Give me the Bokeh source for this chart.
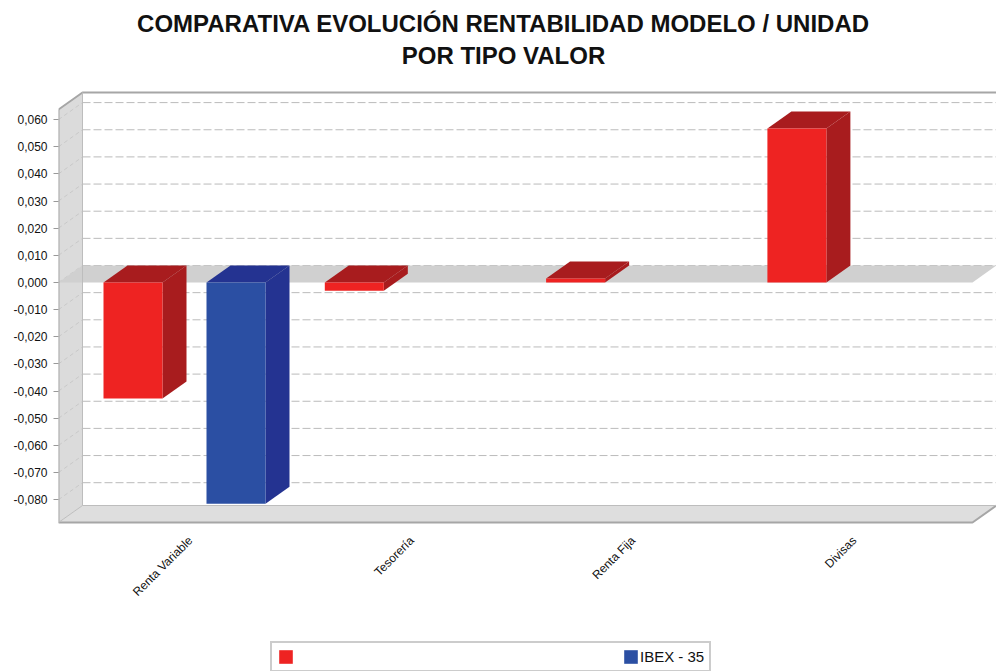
from bokeh.plotting import figure
from bokeh.models import (FixedTicker, LinearAxis, Legend, LegendItem, Label, Range1d)
from bokeh.embed import file_html
from bokeh.resources import INLINE

TITLE_LINES = ["COMPARATIVA EVOLUCIÓN RENTABILIDAD MODELO / UNIDAD", "POR TIPO VALOR"]
categories = ["Renta Variable", "Tesorería", "Renta Fija", "Divisas"]
modelo = [-0.0427, -0.0030, 0.0015, 0.0567]
ibex = [-0.0815, None, None, None]
y_ticks = [-0.08, -0.07, -0.06, -0.05, -0.04, -0.03, -0.02, -0.01, 0.0, 0.01, 0.02, 0.03, 0.04, 0.05, 0.06]
series_names = [" ", "IBEX - 35"]

# layout constants (reference page pixels)
W, H = 996, 671
PX_LEFT, PX_RIGHT = 58, 996
PX_ZERO, PX_PER_UNIT = 282, 2715.0
CAT_ORIGIN, CAT_STEP = 184.0, 221.3


def X(px):
    return (px - CAT_ORIGIN) / CAT_STEP


def Y(py):
    return (PX_ZERO - py) / PX_PER_UNIT


p = figure(width=W, height=H, output_backend="svg", toolbar_location=None,
           x_range=Range1d(X(PX_LEFT), X(PX_RIGHT)), y_range=Range1d(Y(H), Y(0)),
           min_border_left=PX_LEFT, min_border_right=0, min_border_top=0, min_border_bottom=0,
           x_axis_location=None, y_axis_location=None)
p.grid.visible = False
p.outline_line_color = None
p.background_fill_color = "white"
p.border_fill_color = "white"

DX = 24 / CAT_STEP
DY = 17 / PX_PER_UNIT
BAR = 59 / CAT_STEP
RED_OFF, BLUE_OFF = -51.5 / CAT_STEP, 51.5 / CAT_STEP
xl, xr = X(PX_LEFT), X(972)
y_top, y_bot = Y(109), Y(522)

# walls
p.patch([xl, xl + DX, xl + DX, xl], [y_top, y_top + DY, y_bot + DY, y_bot], fill_color="#dbdbdb", line_color=None)
p.patch([xl, xl + DX, xr + DX, xr], [y_bot, y_bot + DY, y_bot + DY, y_bot], fill_color="#dedede", line_color=None)

# grid on back wall and side wall
p.segment([xl + DX] * len(y_ticks), [v + DY for v in y_ticks], [xr + DX] * len(y_ticks), [v + DY for v in y_ticks],
          line_color="#bbbbbb", line_width=1, line_dash="8 3")
p.segment([xl] * len(y_ticks), y_ticks, [xl + DX] * len(y_ticks), [v + DY for v in y_ticks],
          line_color="#c8c8c8", line_width=1, line_dash="4 3")

# zero plane
p.patch([xl, xl + DX, xr + DX, xr], [0, DY, DY, 0], fill_color="#d0d0d0", line_color=None)

# frame edges
p.line([xl, xl, xr, xr + DX], [y_top, y_bot, y_bot, y_bot + DY], line_color="#a6a6a6", line_width=2)
p.line([xl, xl + DX, xr + DX], [y_top, y_top + DY, y_top + DY], line_color="#a6a6a6", line_width=2)
p.line([xl, xl + DX, xr + DX], [y_bot, y_bot + DY, y_bot + DY], line_color="#bdbdbd", line_width=1)
p.line([xl + DX, xl + DX], [y_top + DY, y_bot + DY], line_color="#bdbdbd", line_width=1)


def bars(values, offset, front, dark):
    xs = [i + offset for i, v in enumerate(values) if v is not None]
    vs = [v for v in values if v is not None]
    side_x, side_y, top_x, top_y = [], [], [], []
    for x, v in zip(xs, vs):
        x0, x1 = x - BAR / 2, x + BAR / 2
        hi, lo = max(v, 0), min(v, 0)
        side_x.append([x1, x1 + DX, x1 + DX, x1])
        side_y.append([hi, hi + DY, lo + DY, lo])
        top_x.append([x0, x0 + DX, x1 + DX, x1])
        top_y.append([hi, hi + DY, hi + DY, hi])
    p.patches(side_x, side_y, fill_color=dark, line_color=None)
    p.patches(top_x, top_y, fill_color=dark, line_color=None)
    return p.vbar(x=xs, top=vs, bottom=[0] * len(vs), width=BAR, fill_color=front, line_color=None)


r_red = bars(modelo, RED_OFF, "#ee2322", "#a81c1e")
r_blue = bars(ibex, BLUE_OFF, "#2b4fa3", "#243391")

# axes
yax = LinearAxis(ticker=FixedTicker(ticks=y_ticks),
                 major_label_overrides={v: f"{v:.3f}".replace(".", ",") for v in y_ticks})
yax.axis_line_color = None
yax.major_tick_line_color = "#999999"
yax.major_tick_in = 0
yax.major_tick_out = 5
yax.minor_tick_line_color = None
yax.major_label_text_font = "Liberation Sans"
yax.major_label_text_font_size = "12px"
yax.major_label_text_color = "#111111"
yax.major_label_standoff = 6
p.add_layout(yax, "left")

LABEL_SHIFT = 6 / CAT_STEP
tick_pos = [i + LABEL_SHIFT for i in range(len(categories))]
xax = LinearAxis(ticker=FixedTicker(ticks=tick_pos),
                 major_label_overrides={t: c for t, c in zip(tick_pos, categories)},
                 fixed_location=y_bot)
xax.axis_line_color = None
xax.major_tick_line_color = None
xax.minor_tick_line_color = None
xax.major_label_orientation = 0.785
xax.major_label_text_font = "Liberation Sans"
xax.major_label_text_font_size = "12px"
xax.major_label_text_color = "#111111"
xax.major_label_standoff = 10
p.add_layout(xax, "below")

# title
for line, py in zip(TITLE_LINES, [23, 55]):
    p.add_layout(Label(x=X(503), y=Y(py), text=line, text_align="center", text_baseline="middle",
                       text_font="Liberation Sans", text_font_style="bold", text_font_size="24px",
                       text_color="#111111"))

# legend
legend = Legend(items=[LegendItem(label=series_names[0], renderers=[r_red]),
                       LegendItem(label=series_names[1], renderers=[r_blue])],
                orientation="horizontal", location=(212, -1), spacing=307,
                glyph_width=17, glyph_height=17, label_standoff=1, padding=5, margin=0,
                label_text_font="Liberation Sans", label_text_font_size="15px", label_text_color="#111111",
                border_line_color="#999999", border_line_width=2, background_fill_color="white", background_fill_alpha=1)
p.add_layout(legend)

open("out.html", "w").write(file_html(p, INLINE))
